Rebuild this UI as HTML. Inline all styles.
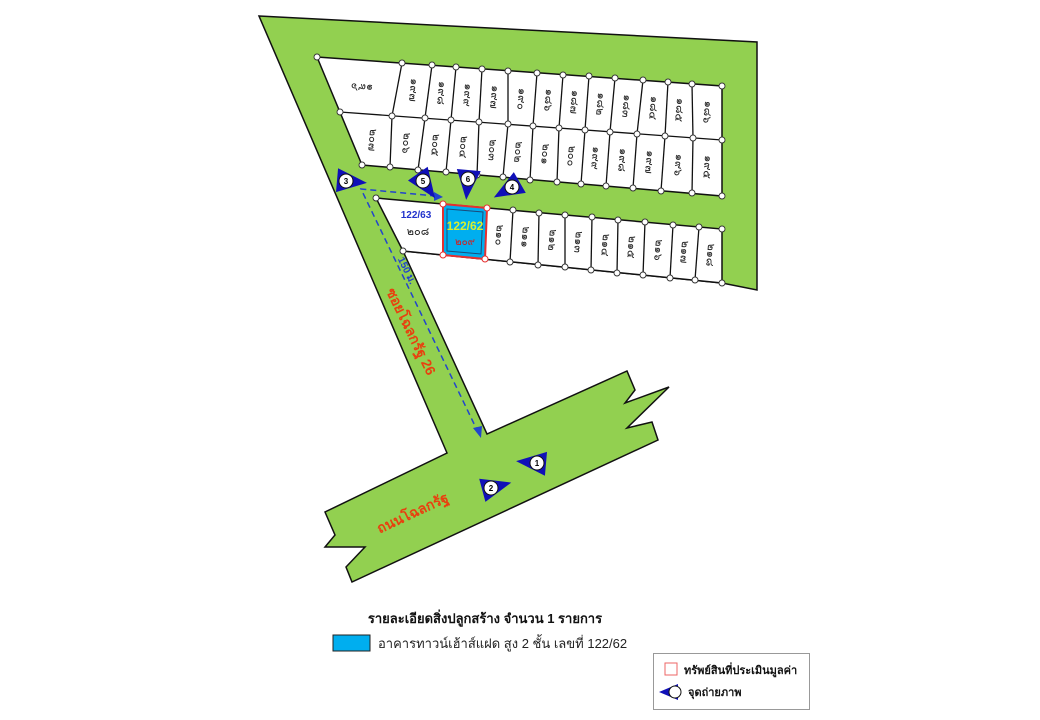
<!DOCTYPE html>
<html><head><meta charset="utf-8"><style>
html,body{margin:0;padding:0;background:#fff;width:1040px;height:720px;overflow:hidden}
svg{display:block}
text{font-family:"Liberation Sans","Noto Sans CJK SC",sans-serif}
.l{font-size:11px;fill:#222;text-anchor:middle;dominant-baseline:middle}
</style></head><body>
<svg width="1040" height="720" viewBox="0 0 1040 720" xmlns="http://www.w3.org/2000/svg">
<polygon points="259,16 757,42 757,290 722,283 403,251 487,434 627,371 635,390 625,403 669,387 627,428 652,422 658,440 352,582 346,567 365,547 325,547 335,535 325,512 447,453" fill="#92d050" stroke="#111" stroke-width="1.5"/>
<!-- top block -->
<polygon points="317,57 722,86 722,196 362,165" fill="#fff" stroke="#111" stroke-width="1.5"/>
<g stroke="#111" stroke-width="1.3" fill="none">
<line x1="340" y1="112" x2="722" y2="140"/>
<line x1="402" y1="63" x2="392" y2="116"/><line x1="432" y1="65" x2="425" y2="118"/><line x1="456" y1="67" x2="451" y2="120"/><line x1="482" y1="69" x2="479" y2="122"/><line x1="508" y1="71" x2="508" y2="124"/><line x1="537" y1="73" x2="533" y2="126"/><line x1="563" y1="75" x2="559" y2="128"/><line x1="589" y1="76" x2="585" y2="130"/><line x1="615" y1="78" x2="610" y2="132"/><line x1="643" y1="80" x2="637" y2="134"/><line x1="668" y1="82" x2="665" y2="136"/><line x1="692" y1="84" x2="693" y2="138"/>
<line x1="392" y1="116" x2="390" y2="167"/><line x1="425" y1="118" x2="418" y2="170"/><line x1="451" y1="120" x2="446" y2="172"/><line x1="479" y1="122" x2="477" y2="175"/><line x1="508" y1="124" x2="503" y2="177"/><line x1="533" y1="126" x2="530" y2="180"/><line x1="559" y1="128" x2="557" y2="182"/><line x1="585" y1="130" x2="581" y2="184"/><line x1="610" y1="132" x2="606" y2="186"/><line x1="637" y1="134" x2="633" y2="188"/><line x1="665" y1="136" x2="661" y2="191"/><line x1="693" y1="138" x2="692" y2="193"/>
</g>
<!-- lower row -->
<polygon points="376,198 722,229 722,283 403,251" fill="#fff" stroke="#111" stroke-width="1.5"/>
<g stroke="#111" stroke-width="1.3">
<line x1="513" y1="210" x2="510" y2="262"/><line x1="539" y1="213" x2="538" y2="265"/><line x1="565" y1="215" x2="565" y2="267"/><line x1="592" y1="217" x2="591" y2="270"/><line x1="618" y1="220" x2="617" y2="273"/><line x1="645" y1="222" x2="643" y2="275"/><line x1="673" y1="225" x2="670" y2="278"/><line x1="699" y1="227" x2="695" y2="280"/>
</g>
<polygon points="443,204 487,208 485,259 443,255" fill="#00aeef" stroke="#e53030" stroke-width="2"/>
<polygon points="447,209 483,212 481,254 447,251" fill="none" stroke="#1a4a7a" stroke-width="1"/>
<!-- vertex dots -->
<g fill="#fff" stroke="#333" stroke-width="0.9">
<circle cx="317" cy="57" r="3"/><circle cx="402" cy="63" r="3"/><circle cx="432" cy="65" r="3"/><circle cx="456" cy="67" r="3"/><circle cx="482" cy="69" r="3"/><circle cx="508" cy="71" r="3"/><circle cx="537" cy="73" r="3"/><circle cx="563" cy="75" r="3"/><circle cx="589" cy="76" r="3"/><circle cx="615" cy="78" r="3"/><circle cx="643" cy="80" r="3"/><circle cx="668" cy="82" r="3"/><circle cx="692" cy="84" r="3"/><circle cx="722" cy="86" r="3"/>
<circle cx="340" cy="112" r="3"/><circle cx="392" cy="116" r="3"/><circle cx="425" cy="118" r="3"/><circle cx="451" cy="120" r="3"/><circle cx="479" cy="122" r="3"/><circle cx="508" cy="124" r="3"/><circle cx="533" cy="126" r="3"/><circle cx="559" cy="128" r="3"/><circle cx="585" cy="130" r="3"/><circle cx="610" cy="132" r="3"/><circle cx="637" cy="134" r="3"/><circle cx="665" cy="136" r="3"/><circle cx="693" cy="138" r="3"/><circle cx="722" cy="140" r="3"/>
<circle cx="362" cy="165" r="3"/><circle cx="390" cy="167" r="3"/><circle cx="418" cy="170" r="3"/><circle cx="446" cy="172" r="3"/><circle cx="477" cy="175" r="3"/><circle cx="503" cy="177" r="3"/><circle cx="530" cy="180" r="3"/><circle cx="557" cy="182" r="3"/><circle cx="581" cy="184" r="3"/><circle cx="606" cy="186" r="3"/><circle cx="633" cy="188" r="3"/><circle cx="661" cy="191" r="3"/><circle cx="692" cy="193" r="3"/><circle cx="722" cy="196" r="3"/>
<circle cx="376" cy="198" r="3"/><circle cx="513" cy="210" r="3"/><circle cx="539" cy="213" r="3"/><circle cx="565" cy="215" r="3"/><circle cx="592" cy="217" r="3"/><circle cx="618" cy="220" r="3"/><circle cx="645" cy="222" r="3"/><circle cx="673" cy="225" r="3"/><circle cx="699" cy="227" r="3"/><circle cx="722" cy="229" r="3"/>
<circle cx="403" cy="251" r="3"/><circle cx="510" cy="262" r="3"/><circle cx="538" cy="265" r="3"/><circle cx="565" cy="267" r="3"/><circle cx="591" cy="270" r="3"/><circle cx="617" cy="273" r="3"/><circle cx="643" cy="275" r="3"/><circle cx="670" cy="278" r="3"/><circle cx="695" cy="280" r="3"/><circle cx="722" cy="283" r="3"/>
</g>
<g fill="#fff" stroke="#e53030" stroke-width="1"><circle cx="443" cy="204" r="3"/><circle cx="487" cy="208" r="3"/><circle cx="485" cy="259" r="3"/><circle cx="443" cy="255" r="3"/></g>
<!-- labels top row -->
<text class="l" transform="translate(362,87) rotate(185)">๑๙๖</text>
<text class="l" transform="translate(413,90) rotate(95)">๑๙๗</text>
<text class="l" transform="translate(441,93) rotate(95)">๑๙๘</text>
<text class="l" transform="translate(467,95) rotate(95)">๑๙๙</text>
<text class="l" transform="translate(494,97) rotate(95)">๑๙๗</text>
<text class="l" transform="translate(521,99) rotate(95)">๑๙๐</text>
<text class="l" transform="translate(548,100) rotate(95)">๑๘๖</text>
<text class="l" transform="translate(574,102) rotate(95)">๑๘๗</text>
<text class="l" transform="translate(600,104) rotate(95)">๑๘๒</text>
<text class="l" transform="translate(626,106) rotate(95)">๑๘๓</text>
<text class="l" transform="translate(653,108) rotate(95)">๑๘๔</text>
<text class="l" transform="translate(679,110) rotate(95)">๑๘๕</text>
<text class="l" transform="translate(707,112) rotate(95)">๑๘๖</text>
<text class="l" transform="translate(372,140) rotate(95)">๒๐๗</text>
<text class="l" transform="translate(406,143) rotate(95)">๒๐๖</text>
<text class="l" transform="translate(435,145) rotate(95)">๒๐๕</text>
<text class="l" transform="translate(463,147) rotate(95)">๒๐๔</text>
<text class="l" transform="translate(492,150) rotate(95)">๒๐๓</text>
<text class="l" transform="translate(518,152) rotate(95)">๒๐๒</text>
<text class="l" transform="translate(545,154) rotate(95)">๒๐๑</text>
<text class="l" transform="translate(571,156) rotate(95)">๒๐๐</text>
<text class="l" transform="translate(595,158) rotate(95)">๑๙๙</text>
<text class="l" transform="translate(622,160) rotate(95)">๑๙๘</text>
<text class="l" transform="translate(649,162) rotate(95)">๑๙๗</text>
<text class="l" transform="translate(678,165) rotate(95)">๑๙๖</text>
<text class="l" transform="translate(707,167) rotate(95)">๑๙๕</text>
<!-- lower row labels -->
<text x="416" y="218" font-size="10" fill="#2233cc" text-anchor="middle" font-weight="bold">122/63</text>
<text x="418" y="235" font-size="11" fill="#222" text-anchor="middle">๒๐๘</text>
<text x="465" y="230" font-size="12" fill="#d8f030" text-anchor="middle" font-weight="bold">122/62</text>
<text x="465" y="245" font-size="10" fill="#d02020" text-anchor="middle">๒๐๙</text>
<text class="l" transform="translate(499,235) rotate(95)">๒๑๐</text>
<text class="l" transform="translate(525,237) rotate(95)">๒๑๑</text>
<text class="l" transform="translate(552,240) rotate(95)">๒๑๒</text>
<text class="l" transform="translate(578,242) rotate(95)">๒๑๓</text>
<text class="l" transform="translate(605,245) rotate(95)">๒๑๔</text>
<text class="l" transform="translate(631,247) rotate(95)">๒๑๕</text>
<text class="l" transform="translate(658,250) rotate(95)">๒๑๖</text>
<text class="l" transform="translate(684,252) rotate(95)">๒๑๗</text>
<text class="l" transform="translate(710,255) rotate(95)">๒๑๘</text>
<!-- dashed arrows -->
<g stroke="#2244cc" stroke-width="1.5" stroke-dasharray="6,4" fill="none">
<polyline points="436,196 361,189 477,430"/>
</g>
<polygon points="443,197 434,192 434,201" fill="#2244cc"/>
<polygon points="481,438 473,428 482,426" fill="#2244cc"/>
<text transform="translate(404,272) rotate(64)" font-size="10" font-weight="bold" fill="#2244cc" text-anchor="middle">150 ม.</text>
<text transform="translate(410,332) rotate(64)" font-size="14" font-weight="bold" fill="#e8400f" text-anchor="middle" dominant-baseline="middle">ซอยโฉลกรัฐ 26</text>
<text transform="translate(413,514) rotate(-25)" font-size="14" font-weight="bold" fill="#e8400f" text-anchor="middle" dominant-baseline="middle">ถนนโฉลกรัฐ</text>
<!-- markers -->
<g font-size="8" font-weight="bold" text-anchor="middle">
<g transform="translate(346,181)"><polygon points="21,0 -9,12 -9,-12" fill="#1010b8" transform="rotate(5)"/><circle r="7" fill="#fff" stroke="#111"/><text y="3">3</text></g>
<g transform="translate(423,181)"><polygon points="21,0 -9,12 -9,-12" fill="#1010b8" transform="rotate(55)"/><circle r="7" fill="#fff" stroke="#111"/><text y="3">5</text></g>
<g transform="translate(468,179)"><polygon points="21,0 -9,12 -9,-12" fill="#1010b8" transform="rotate(95)"/><circle r="7" fill="#fff" stroke="#111"/><text y="3">6</text></g>
<g transform="translate(512,187)"><polygon points="21,0 -9,12 -9,-12" fill="#1010b8" transform="rotate(150)"/><circle r="7" fill="#fff" stroke="#111"/><text y="3">4</text></g>
<g transform="translate(537,463)"><polygon points="21,0 -9,12 -9,-12" fill="#1010b8" transform="rotate(185)"/><circle r="7" fill="#fff" stroke="#111"/><text y="3">1</text></g>
<g transform="translate(491,488)"><polygon points="21,0 -9,12 -9,-12" fill="#1010b8" transform="rotate(-15)"/><circle r="7" fill="#fff" stroke="#111"/><text y="3">2</text></g>
</g>
<!-- legend -->
<text x="485" y="623" font-size="13" font-weight="bold" fill="#111" text-anchor="middle">รายละเอียดสิ่งปลูกสร้าง จำนวน 1 รายการ</text>
<rect x="333" y="635" width="37" height="16" fill="#00aeef" stroke="#222" stroke-width="1"/>
<text x="378" y="648" font-size="13" fill="#222">อาคารทาวน์เฮ้าส์แฝด สูง 2 ชั้น เลขที่ 122/62</text>
<rect x="653.5" y="653.5" width="156" height="56" fill="#fff" stroke="#999"/>
<rect x="665" y="663" width="12" height="12" fill="#fff" stroke="#e66" stroke-width="1"/>
<text x="684" y="674" font-size="11" font-weight="bold" fill="#111">ทรัพย์สินที่ประเมินมูลค่า</text>
<g transform="translate(675,692)"><polygon points="-16,0 3,-8 3,8" fill="#1010b8"/><circle r="6" fill="#fff" stroke="#111"/></g>
<text x="688" y="696" font-size="11" font-weight="bold" fill="#111">จุดถ่ายภาพ</text>
</svg>
</body></html>
